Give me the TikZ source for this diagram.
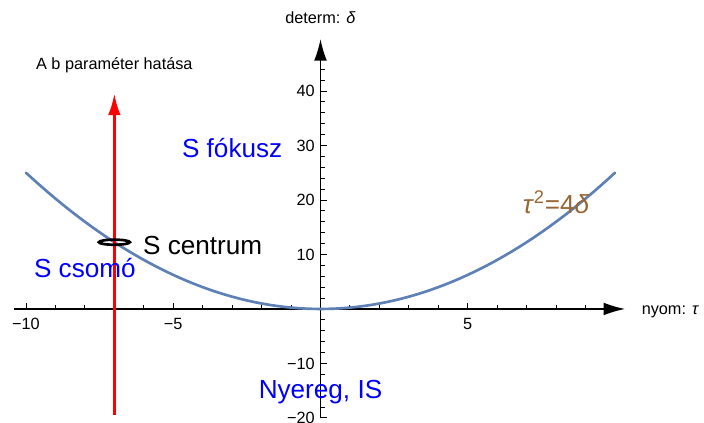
\documentclass[tikz,border=0pt]{standalone}
\usepackage{fontspec}
\setmainfont{Liberation Sans}
\usetikzlibrary{arrows.meta}
\definecolor{cCurve}{HTML}{5E81B5}
\definecolor{cBlue}{HTML}{0000FF}
\definecolor{cBrown}{HTML}{996633}
\definecolor{cRed}{HTML}{FF0000}
\definecolor{cInk}{HTML}{000000}
\tikzset{
  >=Latex,
  axis/.style   ={line width=0.9pt,cInk,-{Latex[length=16pt,width=9.5pt]}},
  tickmark/.style={line width=0.7pt,cInk},
  small/.style  ={font=\fontsize{12.2}{14}\selectfont,inner sep=0pt,text=cInk},
  big/.style    ={font=\fontsize{19.6}{22}\selectfont,inner sep=0pt},
  region/.style ={big,text=cBlue},
  curve/.style  ={line width=2pt,cCurve,line cap=round},
  param/.style  ={line width=2.3pt,cRed,-{Latex[length=16.5pt,width=9.5pt]}},
  ring/.style   ={line width=2pt,cInk},
}
\begin{document}
\begin{tikzpicture}[x=22.09pt,y=4.0875pt]
\useasboundingbox (-10.883,-20.917) rectangle (13.022,56.697);
% axes
\coordinate (xl) at (-10.4,0);
\coordinate (xr) at (10.34,0);
\coordinate (yb) at (0,-20.1);
\coordinate (yt) at (0,49.5);
\draw[axis] (xl) -- (xr);
\draw[axis] (yb) -- (yt);
\foreach \t in {-10,...,9}{
  \ifnum\t=0\else\draw[tickmark] (\t,0) -- ++(0,3pt);\fi}
\foreach \t in {-10,-5,5}{
  \draw[tickmark] (\t,0) -- ++(0,4.5pt);
  \node[small] (tx\t) at (\t,-2.75) {\ifnum\t<0 −\the\numexpr-\t\relax\else\t\fi};}
\foreach \v in {-20,-18,...,44}{
  \ifnum\v=0\else\draw[tickmark] (0,\v) -- ++(3pt,0);\fi}
\foreach \v in {-20,-10,10,20,30,40}{
  \draw[tickmark] (0,\v) -- ++(4.5pt,0);
  \node[small,anchor=east] (ty\v) at (-0.19,\v) {\ifnum\v<0 −\the\numexpr-\v\relax\else\v\fi};}
\node[small,anchor=west] (xlab) at (10.9,-0.55) {nyom: \textit{τ}};
\node[small] (ylab) at (0,53.4) {determ: \textit{δ}};
% parabola
\draw[curve] plot[domain=-10:10,samples=81] (\x,{\x*\x/4});
% b parameter
\coordinate (bbot) at (-7,-19.5);
\coordinate (btop) at (-7,39.6);
\coordinate (ctr) at (-7,12.25);
\draw[param] (bbot) -- (btop);
\draw[ring] (ctr) ellipse [x radius=11.6pt,y radius=1.9pt];
\node[small] (blab) at (-7,44.8) {A b paraméter hatása};
% regions
\node[region] (focus) at (-3,29.5) {S fókusz};
\node[region] (node) at (-8,7.5) {S csomó};
\node[region] (saddle) at (0,-15.3) {Nyereg, IS};
\node[big,text=cInk] (center) at (-4,11.7) {S centrum};
\node[big,text=cBrown] (para) at (8,19.6) {\textit{τ}\textsuperscript{2}=4\textit{δ}};
\end{tikzpicture}
\end{document}
